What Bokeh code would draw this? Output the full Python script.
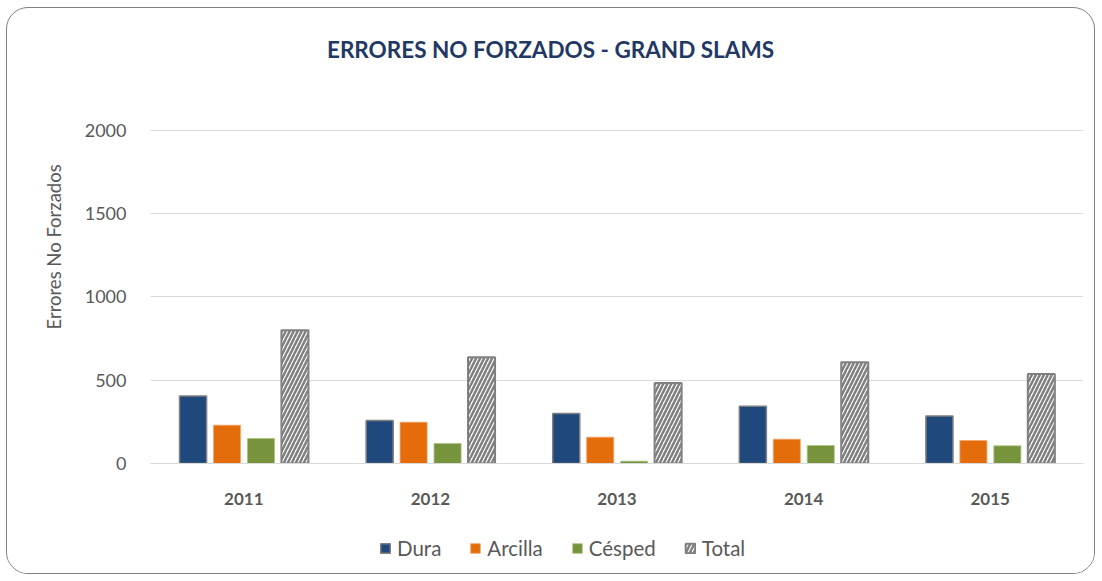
from bokeh.plotting import figure
from bokeh.layouts import column
from bokeh.models import (ColumnDataSource, FactorRange, Range1d, FixedTicker,
                          Legend, LegendItem, Title, Div)
from bokeh.transform import dodge
from bokeh.embed import file_html
from bokeh.resources import INLINE

years = ["2011", "2012", "2013", "2014", "2015"]
dura = [405, 258, 300, 344, 286]
arcilla = [230, 248, 158, 146, 138]
cesped = [150, 120, 14, 108, 106]
total = [800, 638, 484, 608, 538]
y_ticks = [0, 500, 1000, 1500, 2000]
series = ["Dura", "Arcilla", "Césped", "Total"]
title_text = "ERRORES NO FORZADOS - GRAND SLAMS"

src = ColumnDataSource(dict(years=years, dura=dura, arcilla=arcilla,
                            cesped=cesped, total=total))

FONT = "Lato"
W = 1087
T_H, P_H, L_H = 66, 453, 46

STY = [dict(fill_color="#1F497D", line_color="#7F7F7F", line_width=1.5),
       dict(fill_color="#E46C0A", line_color="#F2A46A", line_width=0.8),
       dict(fill_color="#77933C", line_color="#A9C47F", line_width=0.8),
       dict(fill_color="white", line_color="#808080", line_width=2,
            hatch_pattern="/", hatch_color="#808080", hatch_weight=2.5, hatch_scale=8)]

# title strip
tdiv = Div(text=title_text, width=W, height=T_H, margin=0,
           styles={"font-family": FONT, "font-size": "22.5px", "font-weight": "bold",
                   "color": "#1F3864", "text-align": "center", "line-height": "83px",
                   "white-space": "nowrap", "overflow": "visible"})

p = figure(x_range=FactorRange(*years), y_range=Range1d(0, 2006),
           width=W, height=P_H, output_backend="svg", toolbar_location=None,
           min_border_left=143, min_border_right=11, min_border_top=55,
           min_border_bottom=64, margin=0)

bw = 0.145
offs = [-0.272, -0.09, 0.092, 0.274]
cols = ["dura", "arcilla", "cesped", "total"]
for c, o, s in zip(cols, offs, STY):
    p.vbar(x=dodge("years", o, range=p.x_range), top=c, width=bw, bottom=0,
           source=src, **s)

p.x_range.range_padding = 0
p.xgrid.grid_line_color = None
p.ygrid.grid_line_color = "#D9D9D9"
p.ygrid.grid_line_width = 1
p.yaxis.ticker = FixedTicker(ticks=y_ticks)
p.yaxis.axis_line_color = None
p.yaxis.major_tick_line_color = None
p.yaxis.minor_tick_line_color = None
p.yaxis.major_label_text_font = FONT
p.yaxis.major_label_text_font_size = "18px"
p.yaxis.major_label_text_color = "#595959"
p.yaxis.major_label_standoff = 18

ylab = Title(text="Errores No Forzados", align="left", offset=134,
             text_font=FONT, text_font_size="18.5px", text_font_style="normal",
             text_color="#595959", standoff=33)
p.add_layout(ylab, "left")

p.xaxis.axis_line_color = "#D9D9D9"
p.xaxis.major_tick_line_color = None
p.xaxis.minor_tick_line_color = None
p.xaxis.major_label_text_font = FONT
p.xaxis.major_label_text_font_size = "17px"
p.xaxis.major_label_text_font_style = "bold"
p.xaxis.major_label_text_color = "#595959"
p.xaxis.major_label_standoff = 23
p.outline_line_color = None

# legend strip below the chart (tiny swatch renderers hidden behind the legend box)
lf = figure(width=W, height=L_H, output_backend="svg", toolbar_location=None,
            x_range=Range1d(0, 1), y_range=Range1d(0, 1), margin=0,
            min_border_left=0, min_border_right=0, min_border_top=0,
            min_border_bottom=0)
lf.axis.visible = False
lf.grid.grid_line_color = None
lf.outline_line_color = None
items = []
for name, s in zip(series, STY):
    r = lf.vbar(x=[0.45], top=[0.51], bottom=[0.49], width=0.002, **s)
    items.append(LegendItem(label=name, renderers=[r]))
legend = Legend(items=items, orientation="horizontal", location=(229, 13),
                border_line_color=None, background_fill_color="white",
                background_fill_alpha=1,
                label_text_font=FONT, label_text_font_size="20.5px",
                label_text_color="#595959", glyph_width=12, glyph_height=12,
                spacing=28, label_standoff=6, padding=0, margin=0)
lf.add_layout(legend, "center")

layout = column(tdiv, p, lf, spacing=0)
layout.styles = {"margin-left": "6px", "margin-top": "7px",
                 "border": "1.5px solid #808080", "border-radius": "22px",
                 "overflow": "hidden", "background-color": "white"}

open("out.html", "w").write(file_html(layout, INLINE))
